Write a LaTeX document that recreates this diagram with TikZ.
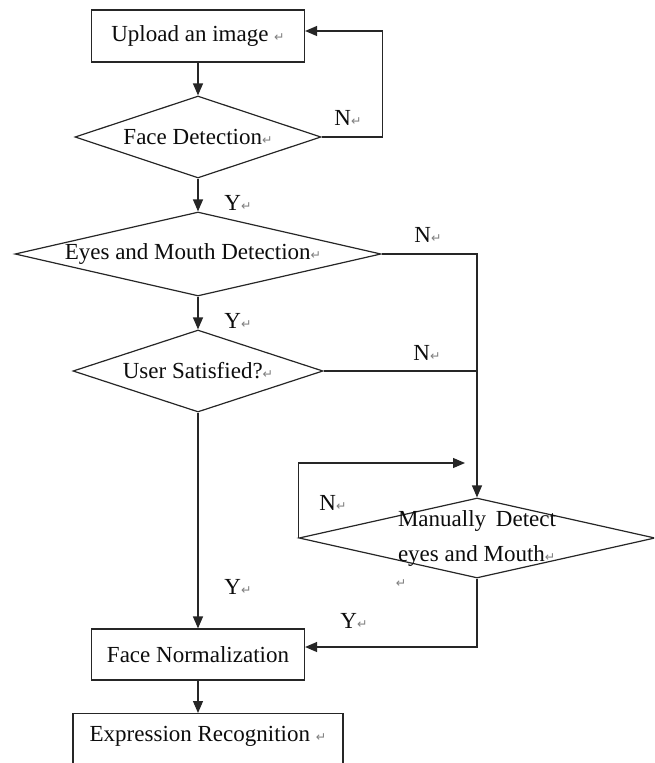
\documentclass[tikz,border=0pt]{standalone}
\usepackage{fontspec}
\setmainfont{Liberation Serif}
\newfontfamily\retfont{DejaVu Sans}
\usetikzlibrary{arrows.meta,shapes.geometric}
% Word-style paragraph mark that follows most texts
\newcommand\pmark{{\retfont\fontsize{12.5}{12.5}\selectfont\textcolor{black!50}{↵}}}

\begin{document}
\begin{tikzpicture}[x=1pt,y=-1pt,
  every node/.style={font=\fontsize{23}{27}\selectfont, text=black!95},
  box/.style={draw=black!85, line width=1.2pt, rectangle, inner sep=0pt},
  dec/.style={draw=black!85, line width=1.2pt, diamond, aspect=1, inner sep=0pt},
  flow/.style={draw=black!85, line width=1.2pt},
  arr/.style={flow, -{Triangle[length=12pt,width=10pt]}},
  lbl/.style={inner sep=0pt}]
\clip (0,0) rectangle (654,763);
\fill[white] (0,0) rectangle (654,763);

% process boxes
\node[box, minimum width=213pt, minimum height=52pt] (up) at (198,36) {Upload an image \pmark};
\node[box, minimum width=213pt, minimum height=51pt] (fn) at (198,654.5) {Face Normalization};
\node[box, anchor=north, minimum width=270pt, text height=28pt, text depth=50pt] (er) at (208,713) {Expression Recognition \pmark};

% decisions
\node[dec, minimum width=246pt, minimum height=82pt] (fd) at (198,137) {\makebox[0pt]{Face Detection\pmark}};
\node[dec, minimum width=366pt, minimum height=84pt] (em) at (198,254) {\makebox[0pt]{\hspace*{-10pt}Eyes and Mouth Detection\pmark}};
\node[dec, minimum width=250pt, minimum height=82pt] (us) at (198,371) {\makebox[0pt]{User Satisfied?\pmark}};
\node[dec, minimum width=356pt, minimum height=80pt] (md) at (477,538)
  {\makebox[0pt]{\parbox{158pt}{\fontsize{23}{35}\selectfont\makebox[158pt][s]{Manually Detect}\\eyes and Mouth\pmark}}};

% branch labels
\node[lbl] (n1) at (348,118) {N\pmark};
\node[lbl] (y1) at (238,203) {Y\pmark};
\node[lbl] (n2) at (428,235) {N\pmark};
\node[lbl] (y2) at (238,321) {Y\pmark};
\node[lbl] (n3) at (427,353) {N\pmark};
\node[lbl] (n4) at (333,503) {N\pmark};
\node[lbl] (y3) at (238,587) {Y\pmark};
\node[lbl] (y4) at (354,621) {Y\pmark};
\node[lbl] (stray) at (401,584) {\pmark};

% connectors
\coordinate (back) at (465,463);
\draw[arr] (up) -- (fd);
\draw[arr] (fd.east) -- ++(61,0) |- ([yshift=5pt]up.east);
\draw[arr] (fd) -- (em);
\draw[arr] (em) -- (us);
\draw[arr] (em.east) -| (md.north);
\draw[flow] (us.east) -- (us.east -| md.north);
\draw[arr] (us) -- (fn);
\draw[arr] (md.west) |- (back);
\draw[arr] (md.south) |- ([yshift=7.5pt]fn.east);
\draw[arr] (fn.south) -- (fn.south |- er.north);
\end{tikzpicture}
\end{document}
